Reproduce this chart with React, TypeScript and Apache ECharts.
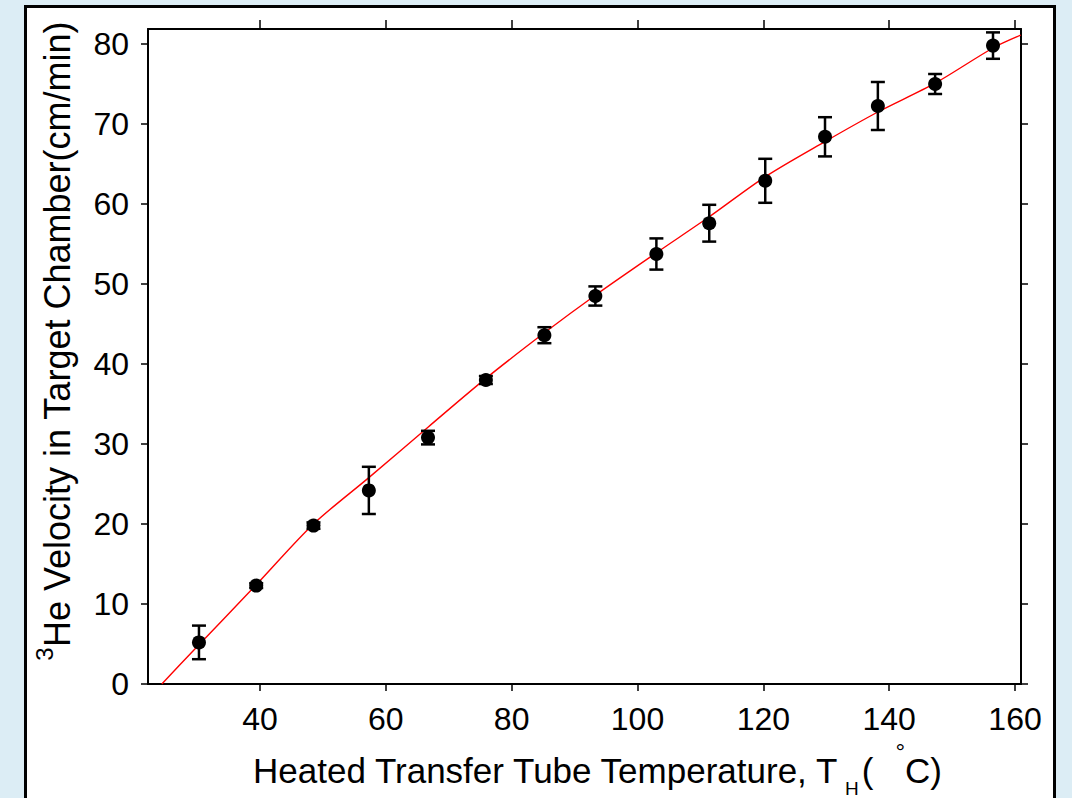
import React, { useEffect, useRef } from "react";
import * as echarts from "echarts";

const temperature = [30.3, 39.4, 48.5, 57.3, 66.7, 75.9, 85.2, 93.3, 103.0, 111.4, 120.3, 129.8, 138.2, 147.3, 156.5];
const velocity = [5.2, 12.3, 19.8, 24.2, 30.8, 38.0, 43.6, 48.5, 53.75, 57.6, 62.9, 68.4, 72.25, 75.0, 79.8];
const velocityError = [2.1, 0.3, 0.4, 2.95, 0.85, 0.5, 1.0, 1.2, 1.95, 2.3, 2.75, 2.45, 3.0, 1.25, 1.65];

const fitTemperature = [24.4, 29.2, 39.4, 48.5, 57.3, 66.7, 75.9, 85.2, 93.3, 103.0, 111.4, 120.3, 129.8, 138.2, 147.3, 156.5, 160.9];
const fitVelocity = [0, 4.0, 12.4, 20.0, 25.8, 32.1, 38.2, 43.9, 48.6, 53.9, 58.4, 63.4, 67.8, 71.5, 75.1, 79.5, 81.1];

const xTicks = [40, 60, 80, 100, 120, 140, 160];
const yTicks = [0, 10, 20, 30, 40, 50, 60, 70, 80];

const FONT = "'Liberation Sans', Arial, Helvetica, sans-serif";

export default function App() {
  const ref = useRef<HTMLDivElement>(null);

  useEffect(() => {
    if (!ref.current) return;
    const chart = echarts.init(ref.current, undefined, { renderer: "svg" });

    const axisLine = { show: true, onZero: false, lineStyle: { color: "#000", width: 2 } };
    const tickStyle = { color: "#000", width: 1.5 };

    const option: any = {
      animation: false,
      backgroundColor: "#dcedf5",
      grid: { left: 148, top: 29, right: 51, bottom: 114, show: false },
      xAxis: [
        {
          type: "value",
          position: "bottom",
          min: 22.2,
          max: 160.95,
          axisLine,
          axisTick: { show: true, length: 7, lineStyle: tickStyle, customValues: xTicks },
          axisLabel: { show: true, customValues: xTicks, fontSize: 32, color: "#000", margin: 19, fontFamily: FONT },
          splitLine: { show: false },
        },
        {
          type: "value",
          position: "top",
          min: 22.2,
          max: 160.95,
          axisLine,
          axisTick: { show: true, length: 9, lineStyle: tickStyle, customValues: xTicks },
          axisLabel: { show: false, customValues: xTicks },
          splitLine: { show: false },
        },
      ],
      yAxis: [
        {
          type: "value",
          position: "left",
          min: 0,
          max: 81.875,
          axisLine,
          axisTick: { show: true, length: 7, lineStyle: tickStyle, customValues: yTicks },
          axisLabel: { show: true, customValues: yTicks, fontSize: 32, color: "#000", margin: 19, fontFamily: FONT },
          splitLine: { show: false },
        },
        {
          type: "value",
          position: "right",
          min: 0,
          max: 81.875,
          axisLine,
          axisTick: { show: true, length: 7, lineStyle: tickStyle, customValues: yTicks },
          axisLabel: { show: false, customValues: yTicks },
          splitLine: { show: false },
        },
      ],
      graphic: [
        {
          type: "rect",
          z: -100,
          silent: true,
          shape: { x: 25.5, y: 6.5, width: 1029, height: 900 },
          style: { fill: "#ffffff", stroke: "#000000", lineWidth: 3 },
        },
        {
          type: "text",
          x: 253,
          y: 770,
          z: 10,
          style: {
            text: "{m|Heated Transfer Tube Temperature, T}{s| H}{m|(}{d|°}{m|C)}",
            fill: "#000",
            textAlign: "left",
            textVerticalAlign: "middle",
            align: "left",
            verticalAlign: "middle",
            rich: {
              m: { fontSize: 35, lineHeight: 40, fontFamily: FONT, fill: "#000", color: "#000" },
              s: { fontSize: 19, lineHeight: 40, fontFamily: FONT, fill: "#000", color: "#000", padding: [36, 3, 0, 0] },
              d: { fontSize: 24, lineHeight: 40, fontFamily: FONT, fill: "#000", color: "#000", padding: [0, 0, 38, 22] },
            },
          },
        },
        {
          type: "text",
          x: 57,
          y: 341,
          rotation: Math.PI / 2,
          z: 10,
          style: {
            text: "{s|3}{m|He Velocity in Target Chamber(cm/min)}",
            fill: "#000",
            textAlign: "center",
            textVerticalAlign: "middle",
            align: "center",
            verticalAlign: "middle",
            rich: {
              m: { fontSize: 36, lineHeight: 40, fontFamily: FONT, fill: "#000", color: "#000" },
              s: { fontSize: 24, lineHeight: 40, fontFamily: FONT, fill: "#000", color: "#000", padding: [0, 0, 26, 0] },
            },
          },
        },
      ],
      series: [
        {
          type: "line",
          name: "fit",
          xAxisIndex: 0,
          yAxisIndex: 0,
          data: fitTemperature.map((t, i) => [t, fitVelocity[i]]),
          showSymbol: false,
          symbol: "none",
          smooth: 0.3,
          lineStyle: { color: "#ff0000", width: 1.4 },
          z: 2,
        },
        {
          type: "custom",
          name: "error",
          xAxisIndex: 0,
          yAxisIndex: 0,
          data: temperature.map((t, i) => [t, velocity[i] - velocityError[i], velocity[i] + velocityError[i]]),
          encode: { x: 0, y: [1, 2] },
          renderItem: (params: any, api: any) => {
            const x = api.value(0);
            const lo = api.coord([x, api.value(1)]);
            const hi = api.coord([x, api.value(2)]);
            const hw = 7;
            const st = { stroke: "#000", lineWidth: 2.5 };
            return {
              type: "group",
              children: [
                { type: "line", shape: { x1: lo[0], y1: lo[1], x2: hi[0], y2: hi[1] }, style: st },
                { type: "line", shape: { x1: lo[0] - hw, y1: lo[1], x2: lo[0] + hw, y2: lo[1] }, style: st },
                { type: "line", shape: { x1: hi[0] - hw, y1: hi[1], x2: hi[0] + hw, y2: hi[1] }, style: st },
              ],
            };
          },
          z: 3,
        },
        {
          type: "scatter",
          name: "data",
          xAxisIndex: 0,
          yAxisIndex: 0,
          data: temperature.map((t, i) => [t, velocity[i]]),
          symbol: "circle",
          symbolSize: 14,
          itemStyle: { color: "#000", opacity: 1 },
          z: 4,
        },
      ],
    };

    chart.setOption(option);
    return () => chart.dispose();
  }, []);

  return (
    <div
      ref={ref}
      style={{ position: "fixed", left: 0, top: 0, width: 1072, height: 798 }}
    />
  );
}
